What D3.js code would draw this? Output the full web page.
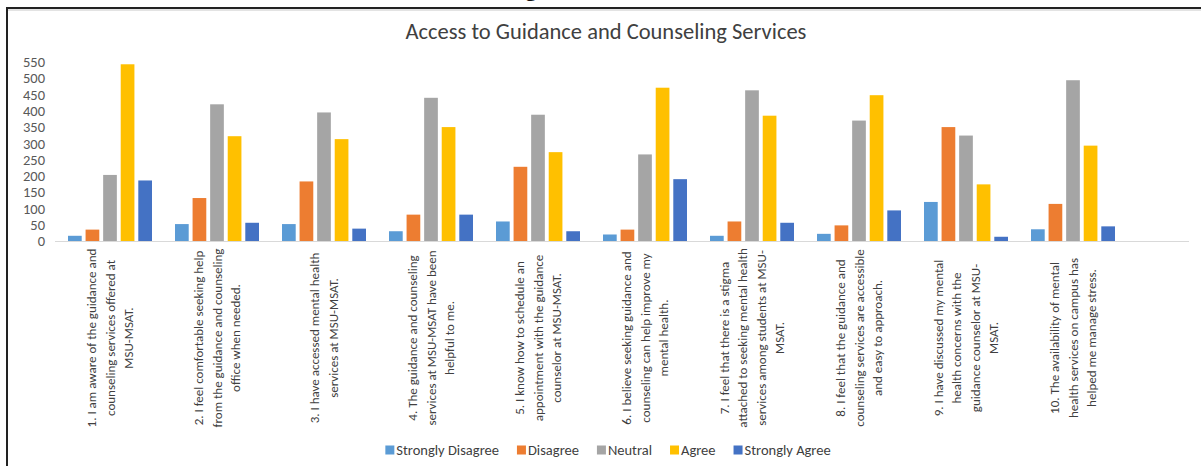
<!DOCTYPE html>
<html>
<script src='https://d3js.org/d3.v7.min.js'></script>
<style>
	body {margin: 0; background: #fff; }
	svg {display: block; font-family: Calibri, Carlito, Lato, sans-serif; }
</style>
<body>
<svg id="chart" width="1201" height="466"></svg>
<script>
const title = "Access to Guidance and Counseling Services";

const series = ["Strongly Disagree", "Disagree", "Neutral", "Agree", "Strongly Agree"];
const colors = ["#5b9bd5", "#ed7d31", "#a5a5a5", "#ffc000", "#4472c4"];

const questions = [
	["1. I am aware of the guidance and", "counseling services offered at", "MSU-MSAT."],
	["2. I feel comfortable seeking help", "from the guidance and counseling", "office when needed."],
	["3. I have accessed mental health", "services at MSU-MSAT."],
	["4. The guidance and counseling", "services at MSU-MSAT have been", "helpful to me."],
	["5. I know how to schedule an", "appointment with the guidance", "counselor at MSU-MSAT."],
	["6. I believe seeking guidance and", "counseling can help improve my", "mental health."],
	["7. I feel that there is a stigma", "attached to seeking mental health", "services among students at MSU-", "MSAT."],
	["8. I feel that the guidance and", "counseling services are accessible", "and easy to approach."],
	["9. I have discussed my mental", "health concerns with the", "guidance counselor at MSU-", "MSAT."],
	["10. The availability of mental", "health services on campus has", "helped me manage stress."]
];

// one array per response, one value per question
const stronglyDisagree = [16, 52, 52, 30, 60, 20, 16, 22, 120, 36];
const disagree         = [35, 132, 183, 81, 228, 35, 60, 48, 350, 114];
const neutral          = [203, 420, 395, 440, 388, 266, 463, 370, 324, 494];
const agree            = [543, 322, 313, 350, 273, 471, 385, 448, 174, 293];
const stronglyAgree    = [186, 56, 38, 81, 30, 190, 56, 94, 13, 45];

const yTicks = [0, 50, 100, 150, 200, 250, 300, 350, 400, 450, 500, 550];

const values = [stronglyDisagree, disagree, neutral, agree, stronglyAgree];
const data = questions.map((q, i) => ({
	idx: i,
	lines: q,
	vals: series.map((s, j) => ({key: s, color: colors[j], value: values[j][i]}))
}));

const svg = d3.select("#chart");

// frame of the pasted picture, with the tail of the caption above it
svg.append("text")
	.attr("x", 531).attr("y", -4)
	.attr("text-anchor", "middle")
	.attr("font-family", "Liberation Serif")
	.attr("font-weight", "bold")
	.attr("font-size", 22)
	.attr("fill", "#111")
	.text("g");
svg.append("line").attr("x1", 6).attr("x2", 1201).attr("y1", 8).attr("y2", 8)
	.attr("stroke", "#222").attr("stroke-width", 2.2);
svg.append("line").attr("x1", 6).attr("x2", 1201).attr("y1", 10).attr("y2", 10)
	.attr("stroke", "#c8c8c8").attr("stroke-width", 1);
svg.append("line").attr("x1", 7).attr("x2", 7).attr("y1", 7).attr("y2", 466)
	.attr("stroke", "#222").attr("stroke-width", 2);

svg.append("text")
	.attr("x", 606).attr("y", 39)
	.attr("text-anchor", "middle")
	.attr("font-size", 22.5)
	.attr("fill", "#404040")
	.text(title);

const x0 = d3.scaleBand()
	.domain(data.map(d => d.idx))
	.range([56.5, 1126.5])
	.paddingInner(0.215)
	.paddingOuter(0.1075);

const x1 = d3.scaleBand()
	.domain(series)
	.range([0, x0.bandwidth()])
	.paddingInner(0.22);

const y = d3.scaleLinear()
	.domain([0, 550])
	.range([241, 62]);

// y axis labels
const yAxis = svg.append("g")
	.attr("transform", "translate(45,0)")
	.call(d3.axisLeft(y).tickValues(yTicks).tickSize(0).tickPadding(0));
yAxis.select(".domain").remove();
yAxis.selectAll("text")
	.attr("font-family", "Calibri, Carlito, Lato, sans-serif")
	.attr("font-size", 14.5)
	.attr("fill", "#595959");

// bars
const groups = svg.selectAll(".grp")
	.data(data)
	.enter()
	.append("g")
	.attr("class", "grp")
	.attr("transform", d => `translate(${x0(d.idx)},0)`);

groups.selectAll("rect")
	.data(d => d.vals)
	.enter()
	.append("rect")
	.attr("x", d => x1(d.key))
	.attr("width", x1.bandwidth())
	.attr("y", d => y(d.value))
	.attr("height", d => y(0) - y(d.value))
	.attr("fill", d => d.color);

// baseline
svg.append("line")
	.attr("x1", 55).attr("x2", 1189)
	.attr("y1", y(0) + 0.5).attr("y2", y(0) + 0.5)
	.attr("stroke", "#d9d9d9").attr("stroke-width", 1.2);

// category labels, rotated and centred on the group
const lineGap = 18.2;
groups.each(function(d) {
	const g = d3.select(this);
	const cx = x0.bandwidth() / 2;
	const n = d.lines.length;
	d.lines.forEach((ln, i) => {
		const off = (i - (n - 1) / 2) * lineGap;
		g.append("text")
			.attr("transform", `translate(${cx + off},338) rotate(-90)`)
			.attr("text-anchor", "middle")
			.attr("dy", "0.35em")
			.attr("font-size", 13)
			.attr("fill", "#404040")
			.text(ln);
	});
});

// legend
const legend = svg.append("g").attr("transform", "translate(0,450)");
const items = legend.selectAll("g")
	.data(series)
	.enter()
	.append("g");
items.append("rect")
	.attr("width", 9).attr("height", 9)
	.attr("y", -4.5)
	.attr("fill", (d, i) => colors[i]);
items.append("text")
	.attr("x", 11)
	.attr("dy", "0.35em")
	.attr("font-size", 14.5)
	.attr("fill", "#404040")
	.text(d => d);

let pos = 0;
const spots = [];
items.each(function() {
	const w = this.getBBox().width;
	spots.push(pos);
	pos += w + 18;
});
const total = pos - 18;
const start = 608 - total / 2;
items.attr("transform", (d, i) => `translate(${start + spots[i]},0)`);
</script>
</body>
</html>
